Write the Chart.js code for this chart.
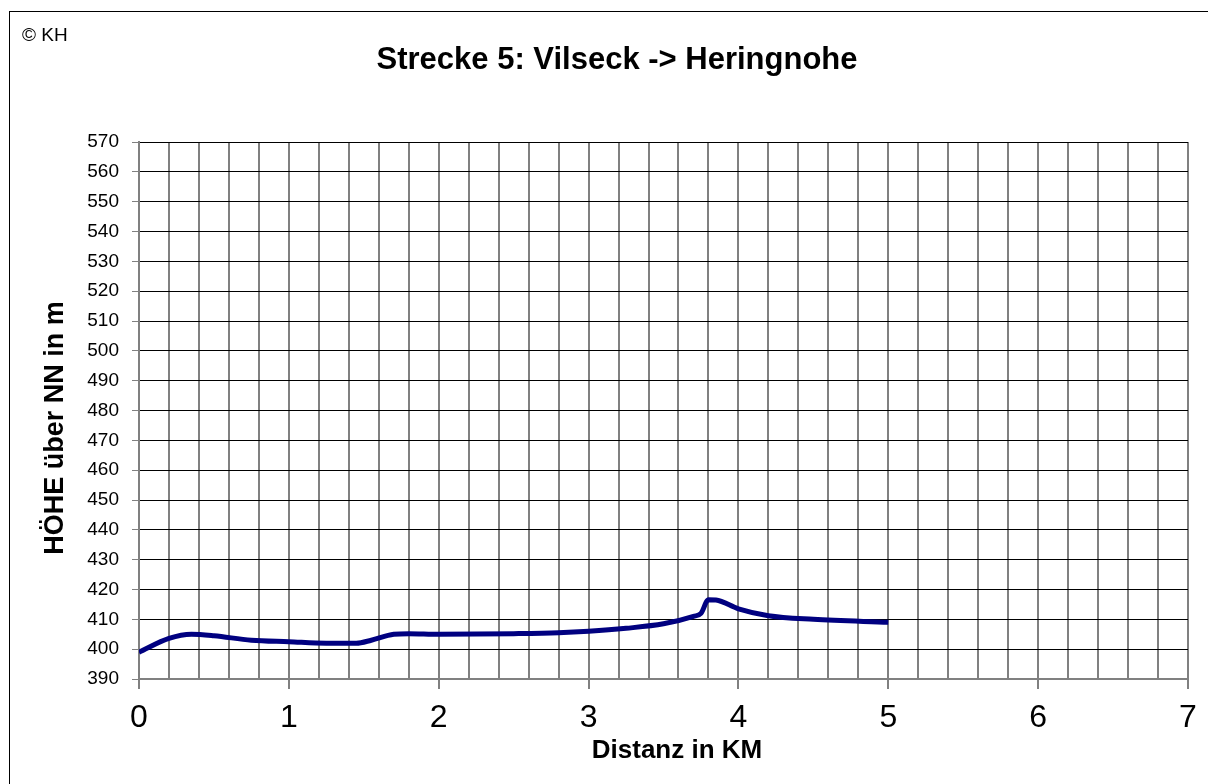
<!DOCTYPE html>
<html>
<head>
    <title>Strecke 5</title>
    <script src="https://cdn.jsdelivr.net/npm/chart.js"></script>
    <style>
        body { margin: 0; background: #fff; }
    </style>
</head>
<body>
    <canvas id="myChart" width="1208" height="784"></canvas>

    <script>
        // Distanz in km / Höhe in m
        var distanz = [0, 0.2, 0.35, 0.5, 0.75, 1.0, 1.25, 1.45, 1.55, 1.7, 1.8, 2.0, 2.5, 2.8, 3.0, 3.25, 3.5, 3.7, 3.75, 3.8, 3.85, 4.0, 4.2, 4.5, 5.0];
        var hoehe = [399, 403.6, 405, 404.5, 403, 402.5, 402, 402, 403, 405, 405.2, 405, 405.2, 405.5, 406, 407, 408.5, 411, 412, 416.6, 416.5, 413.5, 411.2, 410, 409];

        var titel = 'Strecke 5: Vilseck -> Heringnohe';
        var xTitel = 'Distanz in KM';
        var yTitel = 'HÖHE über NN in m';

        var punkte = distanz.map(function (d, i) { return { x: d, y: hoehe[i] }; });

        function isInt(v) { return Math.abs(v - Math.round(v)) < 1e-6; }

        var schrift = '"Liberation Sans", Arial, sans-serif';

        // Texte und Rahmen selbst zeichnen
        var texte = {
            id: 'texte',
            afterDraw: function (chart) {
                var c = chart.ctx;
                c.save();
                c.strokeStyle = '#000';
                c.lineWidth = 1;
                c.strokeRect(9.5, 11.5, 1210, 790);
                c.fillStyle = '#000';
                c.textAlign = 'left';
                c.textBaseline = 'alphabetic';
                c.font = '19px ' + schrift;
                c.fillText('© KH', 22, 41);
                c.textAlign = 'center';
                c.font = 'bold 31px ' + schrift;
                c.fillText(titel, 617, 69);
                c.font = 'bold 26px ' + schrift;
                c.fillText(xTitel, 677, 758);
                c.translate(63, 428);
                c.rotate(-Math.PI / 2);
                c.font = 'bold 27px ' + schrift;
                c.fillText(yTitel, 0, 0);
                c.restore();
            }
        };

        var ctx = document.getElementById('myChart').getContext('2d');
        var myChart = new Chart(ctx, {
            type: 'line',
            data: {
                datasets: [{
                    data: punkte,
                    borderColor: '#000080',
                    borderWidth: 5,
                    pointRadius: 0,
                    fill: false,
                    cubicInterpolationMode: 'monotone'
                }]
            },
            options: {
                responsive: false,
                animation: false,
                layout: { padding: { top: 142, left: 9, right: 20, bottom: 0 } },
                plugins: { legend: { display: false }, tooltip: { enabled: false } },
                scales: {
                    x: {
                        type: 'linear',
                        min: 0,
                        max: 7,
                        afterFit: function (s) { s.height = 105; },
                        afterBuildTicks: function (s) {
                            var t = [];
                            for (var i = 0; i <= 35; i++) t.push({ value: i / 5 });
                            s.ticks = t;
                        },
                        ticks: {
                            autoSkip: false,
                            maxRotation: 0,
                            color: '#000',
                            padding: 10,
                            font: { family: schrift, size: 32 },
                            callback: function (v) { return isInt(v) ? Math.round(v) : ''; }
                        },
                        grid: {
                            color: '#808080',
                            lineWidth: 2,
                            tickLength: 10,
                            tickColor: function (c) { return isInt(c.tick.value) ? '#808080' : 'rgba(0,0,0,0)'; }
                        },
                        border: { color: '#808080', width: 2 }
                    },
                    y: {
                        min: 390,
                        max: 570,
                        afterFit: function (s) { s.width = 130; },
                        ticks: {
                            stepSize: 10,
                            color: '#000',
                            padding: 13,
                            font: { family: schrift, size: 19 }
                        },
                        grid: {
                            color: '#000',
                            lineWidth: 1,
                            tickLength: 7,
                            tickColor: '#808080'
                        },
                        border: { color: '#808080', width: 2 }
                    }
                }
            },
            plugins: [texte]
        });
    </script>
</body>
</html>
